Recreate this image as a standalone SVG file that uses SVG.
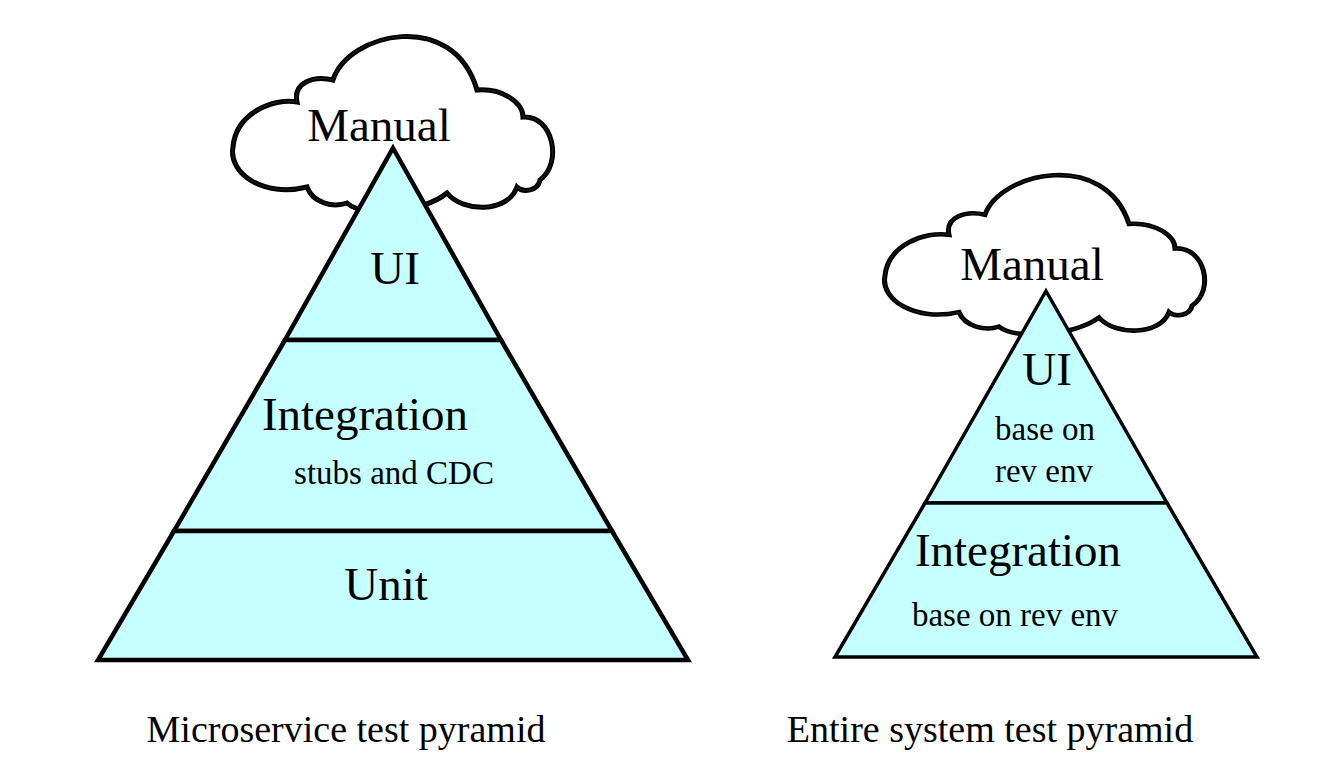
<svg xmlns="http://www.w3.org/2000/svg" width="1322" height="784" viewBox="0 0 1322 784">
<style>
.t{font-family:"Liberation Serif","Times New Roman",serif;fill:#000;text-anchor:middle}
.big{font-size:47px}
.sm{font-size:33px}
.cap{font-size:38px}
.layer{fill:#c6ffff;stroke:#000;stroke-linejoin:miter}
.cl{fill:#fff;stroke:#000;stroke-width:5}
.cl2{fill:none;stroke:#555;stroke-width:0.8;stroke-opacity:0.5}
</style>
<defs>
<path id="cloud" d="M64,69 C60,50 80,42 100,47 C115,0 220,-25 244,57 C270,55 290,70 290,84 C320,82 330,130 307,147 C305,158 290,160 284,154 C275,180 230,180 214,160 C190,180 130,185 114,170 C100,175 80,170 74,154 C30,165 -5,140 0,114 C3,80 40,65 64,69 Z"/>
</defs>
<rect width="1322" height="784" fill="#fff"/>
<g id="left-pyramid">
<g id="left-manual">
<use href="#cloud" class="cl" transform="translate(233,33)"/>
<use href="#cloud" class="cl2" transform="translate(233,33)"/>
<text class="t big" x="379" y="141">Manual</text>
</g>
<g id="left-ui">
<polygon class="layer" stroke-width="4.5" points="393,148 501,340 285,340"/>
<text class="t big" x="395" y="284">UI</text>
</g>
<g id="left-integration">
<polygon class="layer" stroke-width="4.5" points="285,340 501,340 612,531 174,531"/>
<text class="t big" x="365" y="430">Integration</text>
<text class="t sm" x="394" y="484">stubs and CDC</text>
</g>
<g id="left-unit">
<polygon class="layer" stroke-width="4.5" points="174,531 612,531 688,660 98,660"/>
<text class="t big" x="386" y="600">Unit</text>
</g>
<text id="left-caption" class="t cap" x="346" y="742">Microservice test pyramid</text>
</g>
<g id="right-pyramid">
<g id="right-manual">
<use href="#cloud" class="cl" transform="translate(885,172) scale(1,0.91)"/>
<use href="#cloud" class="cl2" transform="translate(885,172) scale(1,0.91)"/>
<text class="t big" x="1032" y="280">Manual</text>
</g>
<g id="right-ui">
<polygon class="layer" stroke-width="3.5" points="1046,291 1167,503 925,503"/>
<text class="t big" x="1047" y="385">UI</text>
<text class="t sm" x="1045" y="440">base on</text>
<text class="t sm" x="1044" y="482">rev env</text>
</g>
<g id="right-integration">
<polygon class="layer" stroke-width="3.5" points="925,503 1167,503 1257,657 835,657"/>
<text class="t big" x="1018" y="566">Integration</text>
<text class="t sm" x="1015" y="626">base on rev env</text>
</g>
<text id="right-caption" class="t cap" x="990" y="742">Entire system test pyramid</text>
</g>
</svg>
